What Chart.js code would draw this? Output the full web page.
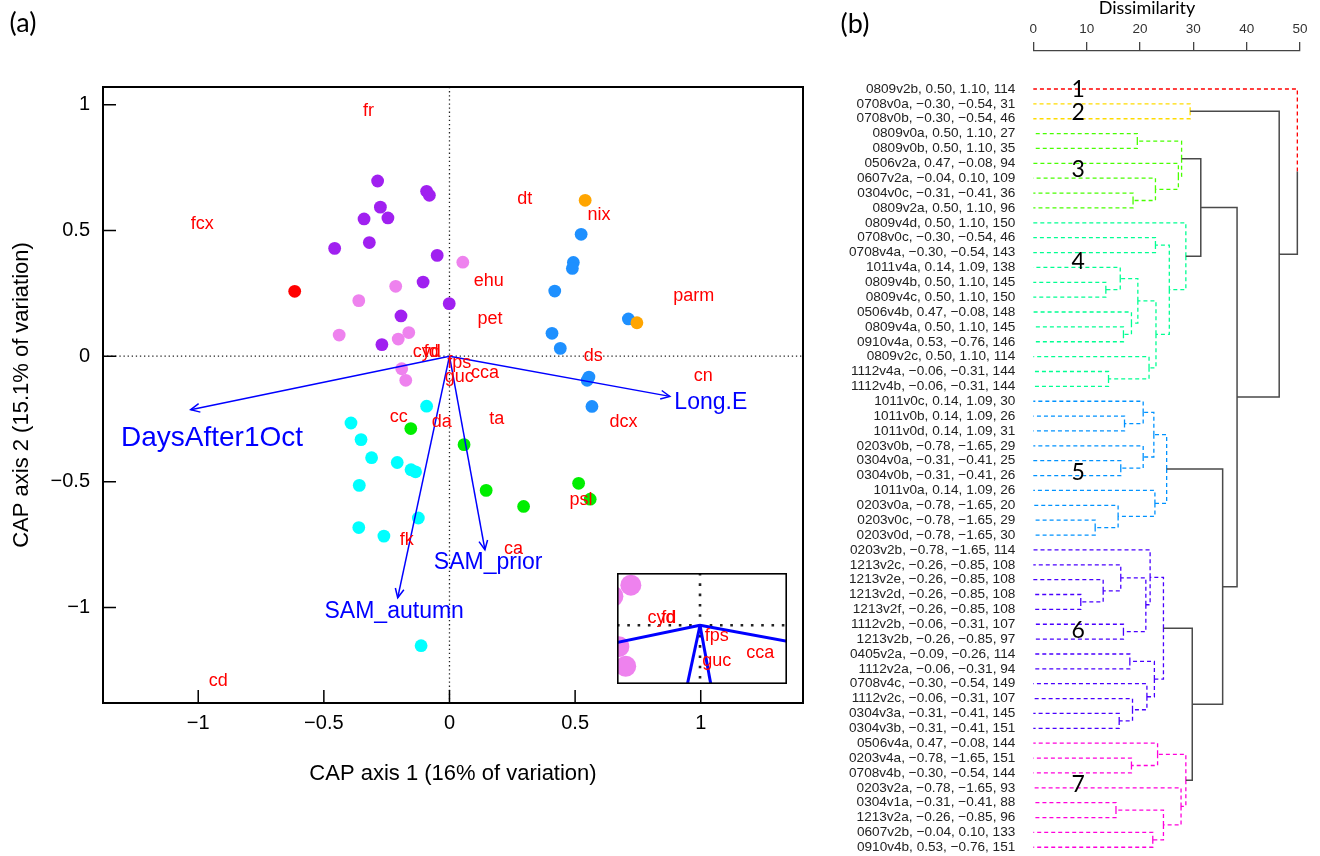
<!DOCTYPE html>
<html>
<head>
<meta charset="utf-8">
<script src="https://cdn.jsdelivr.net/npm/chart.js@4.4.1/dist/chart.umd.min.js"></script>
<style>
  body { margin: 0; background: #fff; }
  #wrap { position: relative; width: 1320px; height: 856px; overflow: hidden; background: #fff; }
  canvas { position: absolute; }
</style>
</head>
<body>
<div id="wrap">
  <canvas id="cap" width="820" height="856" style="left:0;top:0"></canvas>
  <canvas id="inset" width="170" height="111" style="left:617px;top:573px"></canvas>
  <canvas id="dendro" width="500" height="856" style="left:820px;top:0"></canvas>
</div>
<script>
Chart.defaults.font.family = '"Liberation Sans", Arial, Helvetica, sans-serif';
Chart.defaults.color = '#000';

// ---------- panel (a): CAP scores, one list per colour group ----------
const purplePts = [[-0.286, 0.697], [-0.091, 0.656], [-0.080, 0.640], [-0.275, 0.593], [-0.340, 0.546],
  [-0.245, 0.550], [-0.457, 0.429], [-0.319, 0.452], [-0.049, 0.401], [-0.105, 0.295],
  [-0.001, 0.209], [-0.193, 0.160], [-0.269, 0.046]];
const violetPts = [[-0.214, 0.278], [-0.361, 0.221], [-0.439, 0.084], [-0.204, 0.068], [-0.162, 0.094],
  [0.053, 0.374], [-0.190, -0.050], [-0.174, -0.096]];
const redPts = [[-0.616, 0.258]];
const orangePts = [[0.540, 0.620], [0.746, 0.133]];
const bluePts = [[0.524, 0.485], [0.493, 0.373], [0.489, 0.349], [0.419, 0.259], [0.712, 0.148],
  [0.408, 0.091], [0.441, 0.031], [0.555, -0.083], [0.548, -0.096], [0.567, -0.200]];
const cyanPts = [[-0.091, -0.199], [-0.392, -0.266], [-0.352, -0.332], [-0.310, -0.404], [-0.208, -0.423],
  [-0.153, -0.452], [-0.135, -0.460], [-0.359, -0.514], [-0.124, -0.644], [-0.361, -0.682],
  [-0.261, -0.716], [-0.113, -1.152]];
const greenPts = [[-0.154, -0.288], [0.058, -0.352], [0.146, -0.534], [0.295, -0.598], [0.514, -0.506], [0.560, -0.569]];

// species centroids (text only)
const spNames = ['fr', 'fcx', 'dt', 'nix', 'ehu', 'parm', 'pet', 'ds', 'cn', 'dcx', 'ta', 'cc', 'da',
  'psl', 'ca', 'fk', 'cd', 'cca', 'guc', 'fps', 'cyd', 'fd'];
const spX = [-0.322, -0.984, 0.300, 0.595, 0.156, 0.972, 0.161, 0.572, 1.010, 0.693, 0.188, -0.202, -0.031,
  0.523, 0.255, -0.170, -0.920, 0.141, 0.039, 0.039, -0.090, -0.073];
const spY = [0.975, 0.527, 0.624, 0.563, 0.300, 0.241, 0.148, 0.000, -0.078, -0.262, -0.249, -0.242, -0.261,
  -0.571, -0.766, -0.733, -1.293, -0.066, -0.083, -0.026, 0.017, 0.016];

// environmental vectors
const vecNames = ['DaysAfter1Oct', 'Long.E', 'SAM_prior', 'SAM_autumn'];
const vecX = [-1.030, 0.877, 0.141, -0.206];
const vecY = [-0.213, -0.160, -0.770, -0.961];
const vecLabX = [-0.945, 1.040, 0.154, -0.220];
const vecLabY = [-0.328, -0.185, -0.822, -1.018];

const capTicks = [-1, -0.5, 0, 0.5, 1];
const capTickText = ['−1', '−0.5', '0', '0.5', '1'];

// ---------- panel (b): dendrogram ----------
const leafLabels = [
  '0809v2b, 0.50, 1.10, 114', '0708v0a, −0.30, −0.54, 31', '0708v0b, −0.30, −0.54, 46',
  '0809v0a, 0.50, 1.10, 27', '0809v0b, 0.50, 1.10, 35', '0506v2a, 0.47, −0.08, 94',
  '0607v2a, −0.04, 0.10, 109', '0304v0c, −0.31, −0.41, 36', '0809v2a, 0.50, 1.10, 96',
  '0809v4d, 0.50, 1.10, 150', '0708v0c, −0.30, −0.54, 46', '0708v4a, −0.30, −0.54, 143',
  '1011v4a, 0.14, 1.09, 138', '0809v4b, 0.50, 1.10, 145', '0809v4c, 0.50, 1.10, 150',
  '0506v4b, 0.47, −0.08, 148', '0809v4a, 0.50, 1.10, 145', '0910v4a, 0.53, −0.76, 146',
  '0809v2c, 0.50, 1.10, 114', '1112v4a, −0.06, −0.31, 144', '1112v4b, −0.06, −0.31, 144',
  '1011v0c, 0.14, 1.09, 30', '1011v0b, 0.14, 1.09, 26', '1011v0d, 0.14, 1.09, 31',
  '0203v0b, −0.78, −1.65, 29', '0304v0a, −0.31, −0.41, 25', '0304v0b, −0.31, −0.41, 26',
  '1011v0a, 0.14, 1.09, 26', '0203v0a, −0.78, −1.65, 20', '0203v0c, −0.78, −1.65, 29',
  '0203v0d, −0.78, −1.65, 30', '0203v2b, −0.78, −1.65, 114', '1213v2c, −0.26, −0.85, 108',
  '1213v2e, −0.26, −0.85, 108', '1213v2d, −0.26, −0.85, 108', '1213v2f, −0.26, −0.85, 108',
  '1112v2b, −0.06, −0.31, 107', '1213v2b, −0.26, −0.85, 97', '0405v2a, −0.09, −0.26, 114',
  '1112v2a, −0.06, −0.31, 94', '0708v4c, −0.30, −0.54, 149', '1112v2c, −0.06, −0.31, 107',
  '0304v3a, −0.31, −0.41, 145', '0304v3b, −0.31, −0.41, 151', '0506v4a, 0.47, −0.08, 144',
  '0203v4a, −0.78, −1.65, 151', '0708v4b, −0.30, −0.54, 144', '0203v2a, −0.78, −1.65, 93',
  '0304v1a, −0.31, −0.41, 88', '1213v2a, −0.26, −0.85, 96', '0607v2b, −0.04, 0.10, 133',
  '0910v4b, 0.53, −0.76, 151'];
const leafCluster = [1, 2, 2, 3, 3, 3, 3, 3, 3, 4, 4, 4, 4, 4, 4, 4, 4, 4, 4, 4, 4,
  5, 5, 5, 5, 5, 5, 5, 5, 5, 5, 6, 6, 6, 6, 6, 6, 6, 6, 6, 6, 6, 6, 6, 7, 7, 7, 7, 7, 7, 7, 7];
// hclust style merges: negative = leaf (plot order), positive = earlier merge, then height
const merges = [
  [-2, -3, 29.4],
  [-4, -5, 19.5], [-8, -9, 18.7], [-7, 3, 22.9], [-6, 4, 27.2], [2, 5, 27.8],
  [-11, -12, 22.9], [-14, -15, 13.6], [-13, 8, 16.3], [-17, -18, 16.9], [-16, 10, 18.4],
  [9, 11, 19.6], [-20, -21, 14.1], [-19, 13, 21.7], [12, 14, 23.0], [7, 15, 25.5], [-10, 16, 28.6],
  [6, 17, 31.4],
  [-23, -24, 17.1], [-22, 19, 20.6], [-26, -27, 16.4], [-25, 21, 20.6], [20, 22, 22.6],
  [-30, -31, 11.6], [-29, 24, 15.9], [-28, 25, 22.8], [23, 26, 25.0],
  [-35, -36, 8.9], [-34, 28, 13.1], [-33, 29, 16.4], [-37, -38, 16.9], [30, 31, 21.1],
  [-32, 32, 21.9], [-39, -40, 18.1], [-43, -44, 16.1], [-42, 35, 18.6], [-41, 36, 21.3],
  [34, 37, 22.7], [33, 38, 24.4],
  [-46, -47, 18.4], [-45, 40, 23.3], [-49, -50, 15.5], [-51, -52, 22.4], [42, 43, 24.4],
  [-48, 44, 27.7], [41, 45, 28.6],
  [39, 46, 29.8], [27, 47, 35.5], [18, 48, 38.2], [1, 49, 46.1], [-1, 50, 49.5]];
const clusterNames = ['1', '2', '3', '4', '5', '6', '7'];
const clusterLabelX = 8.4;
const clusterLabelY = [1.05, 2.6, 6.4, 12.6, 26.8, 37.45, 47.8];
const dissTicks = [0, 10, 20, 30, 40, 50];

// ---------- styles ----------
const groupPts = [purplePts, violetPts, redPts, orangePts, bluePts, cyanPts, greenPts];
const groupColors = ['#A020F0', '#EE82EE', '#FF0000', '#FFA500', '#1E90FF', '#00FFFF', '#00EE00'];
const clusterColors = ['#FF0000', '#FFDB00', '#49FF00', '#00FF92', '#0092FF', '#4900FF', '#FF00DB'];
const FONT = '"Liberation Sans", Arial, sans-serif';
const CAL = 'Lato, "Open Sans", sans-serif';

function pointSets(r) {
  return groupPts.map((g, i) => ({
    data: g.map(p => ({ x: p[0], y: p[1] })),
    backgroundColor: groupColors[i], borderWidth: 0, pointRadius: r, pointHoverRadius: r, order: 2
  }));
}
function vectorSets(w) {
  return vecNames.map((n, i) => ({
    data: [{ x: 0, y: 0 }, { x: vecX[i], y: vecY[i] }],
    showLine: true, borderColor: '#0000FF', borderWidth: w, pointRadius: 0, order: 1
  }));
}
function pos(chart, vx, vy) {
  return [chart.scales.x.getPixelForValue(vx), chart.scales.y.getPixelForValue(vy)];
}
function zeroLines(chart, dash, width) {
  const { ctx, chartArea: a } = chart;
  const [x0, y0] = pos(chart, 0, 0);
  ctx.save();
  ctx.setLineDash(dash);
  ctx.lineWidth = width;
  ctx.strokeStyle = '#222';
  ctx.beginPath();
  ctx.moveTo(x0, a.top); ctx.lineTo(x0, a.bottom);
  ctx.moveTo(a.left, y0); ctx.lineTo(a.right, y0);
  ctx.stroke();
  ctx.restore();
}
function speciesText(chart) {
  const ctx = chart.ctx;
  ctx.save();
  ctx.font = '18px ' + FONT;
  ctx.fillStyle = '#FF0000';
  ctx.textAlign = 'center';
  ctx.textBaseline = 'middle';
  spNames.forEach((n, i) => {
    const [a, b] = pos(chart, spX[i], spY[i]);
    ctx.fillText(n, a, b);
  });
  ctx.restore();
}

const capDecor = {
  id: 'capDecor',
  beforeDatasetsDraw(chart) { zeroLines(chart, [1.3, 2.8], 1.3); },
  afterDatasetsDraw(chart) {
    const ctx = chart.ctx;
    const [ox, oy] = pos(chart, 0, 0);
    ctx.save();
    ctx.strokeStyle = '#0000FF';
    ctx.lineWidth = 1.5;
    vecNames.forEach((n, i) => {
      const [ex, ey] = pos(chart, vecX[i], vecY[i]);
      const ang = Math.atan2(ey - oy, ex - ox);
      ctx.beginPath();
      ctx.moveTo(ex - 10 * Math.cos(ang - 0.45), ey - 10 * Math.sin(ang - 0.45));
      ctx.lineTo(ex, ey);
      ctx.lineTo(ex - 10 * Math.cos(ang + 0.45), ey - 10 * Math.sin(ang + 0.45));
      ctx.stroke();
    });
    ctx.fillStyle = '#0000FF';
    ctx.textAlign = 'center';
    ctx.textBaseline = 'middle';
    vecNames.forEach((n, i) => {
      ctx.font = (i === 0 ? 28 : 23) + 'px ' + FONT;
      const [a, b] = pos(chart, vecLabX[i], vecLabY[i]);
      ctx.fillText(n, a, b);
    });
    ctx.restore();
    speciesText(chart);
  },
  afterDraw(chart) {
    const { ctx, chartArea: a } = chart;
    ctx.save();
    ctx.strokeStyle = '#000';
    ctx.lineWidth = 1.5;
    ctx.beginPath();
    capTicks.forEach(v => {
      const [tx, ty] = pos(chart, v, v);
      ctx.moveTo(tx, a.bottom); ctx.lineTo(tx, a.bottom - 13);
      ctx.moveTo(a.left, ty); ctx.lineTo(a.left + 13, ty);
    });
    ctx.stroke();
    ctx.lineWidth = 2;
    ctx.strokeRect(a.left, a.top, a.right - a.left, a.bottom - a.top);
    ctx.fillStyle = '#000';
    ctx.font = '27px ' + CAL;
    ctx.textAlign = 'center';
    ctx.textBaseline = 'middle';
    ctx.fillText('(a)', 23, 23);
    ctx.restore();
  }
};

const capAxis = (min, max) => ({
  type: 'linear', min, max,
  afterBuildTicks: s => { s.ticks = capTicks.map(v => ({ value: v })); },
  grid: { display: false, drawTicks: false },
  border: { display: false },
  ticks: {
    autoSkip: false, maxRotation: 0, font: { size: 20 }, color: '#000',
    callback: v => capTickText[capTicks.indexOf(v)]
  }
});

const xCap = capAxis(-1.379, 1.407);
xCap.ticks.padding = 8;
xCap.afterFit = s => { s.height = 84; };
xCap.title = { display: true, text: 'CAP axis 1 (16% of variation)', font: { size: 22 }, color: '#000', padding: 0 };
const yCap = capAxis(-1.380, 1.071);
yCap.ticks.padding = 13;
yCap.afterFit = s => { s.width = 103; };
yCap.title = { display: true, text: 'CAP axis 2 (15.1% of variation)', font: { size: 22 }, color: '#000', padding: { top: 9, bottom: 0 } };

new Chart(document.getElementById('cap'), {
  type: 'scatter',
  data: { datasets: vectorSets(1.5).concat(pointSets(6.4)) },
  options: {
    responsive: false, animation: false, devicePixelRatio: 1,
    layout: { autoPadding: false, padding: { left: 0, top: 87, right: 17, bottom: 69 } },
    plugins: { legend: { display: false }, tooltip: { enabled: false } },
    scales: { x: xCap, y: yCap }
  },
  plugins: [capDecor]
});

// zoomed inset around the origin
const insetDecor = {
  id: 'insetDecor',
  beforeDraw(chart) {
    chart.ctx.save();
    chart.ctx.fillStyle = '#fff';
    chart.ctx.fillRect(0, 0, chart.width, chart.height);
    chart.ctx.restore();
  },
  beforeDatasetsDraw(chart) { zeroLines(chart, [2.6, 7.7], 2.6); },
  afterDatasetsDraw(chart) { speciesText(chart); },
  afterDraw(chart) {
    const ctx = chart.ctx;
    ctx.save();
    ctx.strokeStyle = '#000';
    ctx.lineWidth = 1.6;
    ctx.strokeRect(0.8, 0.8, chart.width - 1.6, chart.height - 1.6);
    ctx.restore();
  }
};
new Chart(document.getElementById('inset'), {
  type: 'scatter',
  data: { datasets: vectorSets(3).concat(pointSets(10.5)) },
  options: {
    responsive: false, animation: false, devicePixelRatio: 1,
    layout: { autoPadding: false, padding: 0 },
    plugins: { legend: { display: false }, tooltip: { enabled: false } },
    scales: {
      x: { type: 'linear', min: -0.1944, max: 0.2037, display: false },
      y: { type: 'linear', min: -0.1375, max: 0.1225, display: false }
    }
  },
  plugins: [insetDecor]
});

// ---------- dendrogram ----------
const nodes = [];
const ref = r => r < 0 ? { h: 0, y: -r, leaf: true } : nodes[r - 1];
merges.forEach(([a, b, h]) => {
  const A = ref(a), B = ref(b);
  const leaves = (A.leaf ? [A.y] : A.leaves).concat(B.leaf ? [B.y] : B.leaves);
  const c0 = leafCluster[leaves[0] - 1];
  const cl = leaves.every(l => leafCluster[l - 1] === c0) ? c0 : 0;
  nodes.push({ h, y: (A.y + B.y) / 2, leaves, cl, kids: [A, B] });
});
const segs = {};
nodes.forEach(P => P.kids.forEach(C => {
  let key = 0;
  if (P.cl) key = P.cl;
  else if (C.leaf) key = leafCluster[C.y - 1];
  (segs[key] = segs[key] || []).push(
    { x: P.h, y: P.y }, { x: P.h, y: C.y }, { x: C.h, y: C.y }, { x: null, y: null });
}));
const treeSets = Object.keys(segs).map(k => ({
  data: segs[k], showLine: true, spanGaps: false, pointRadius: 0, clip: false,
  borderColor: k === '0' ? '#4a4a4a' : clusterColors[k - 1],
  borderWidth: k === '0' ? 1.5 : 1.3,
  borderDash: k === '0' ? [] : [4, 3]
}));

const dendroDecor = {
  id: 'dendroDecor',
  afterDraw(chart) {
    const { ctx, scales: { x, y } } = chart;
    ctx.save();
    ctx.fillStyle = '#000';
    ctx.textAlign = 'center';
    ctx.textBaseline = 'middle';
    ctx.font = '27px ' + CAL;
    ctx.fillText('(b)', 35, 24);
    ctx.font = '18px ' + CAL;
    ctx.fillText('Dissimilarity', 327, 8);
    ctx.font = '23px ' + CAL;
    clusterNames.forEach((n, i) => {
      ctx.fillText(n, x.getPixelForValue(clusterLabelX), y.getPixelForValue(clusterLabelY[i]));
    });
    ctx.restore();
  }
};

new Chart(document.getElementById('dendro'), {
  type: 'scatter',
  data: { datasets: treeSets },
  options: {
    responsive: false, animation: false, devicePixelRatio: 1,
    layout: { autoPadding: false, padding: { left: 0, top: 0, right: 20, bottom: 0 } },
    plugins: { legend: { display: false }, tooltip: { enabled: false } },
    scales: {
      x: {
        type: 'linear', position: 'top', min: 0, max: 50,
        afterBuildTicks: s => { s.ticks = dissTicks.map(v => ({ value: v })); },
        afterFit: s => { s.height = 51; },
        ticks: { font: { size: 13.5 }, color: '#333', padding: 5, maxRotation: 0, autoSkip: false },
        grid: { display: true, drawOnChartArea: false, drawTicks: true, tickLength: 9, color: '#444', lineWidth: 1.3 },
        border: { display: true, color: '#444', width: 1.3 }
      },
      y: {
        type: 'linear', position: 'left', reverse: true, min: -1.556, max: 52.587,
        afterBuildTicks: s => { s.ticks = leafLabels.map((l, i) => ({ value: i + 1 })); },
        afterFit: s => { s.width = 213.3; s.paddingTop = 0; s.paddingBottom = 0; },
        ticks: {
          autoSkip: false, font: { size: 13.6 }, color: '#222', padding: 18,
          callback: v => leafLabels[v - 1]
        },
        grid: { display: false, drawTicks: false },
        border: { display: false }
      }
    }
  },
  plugins: [dendroDecor]
});
</script>
</body>
</html>
